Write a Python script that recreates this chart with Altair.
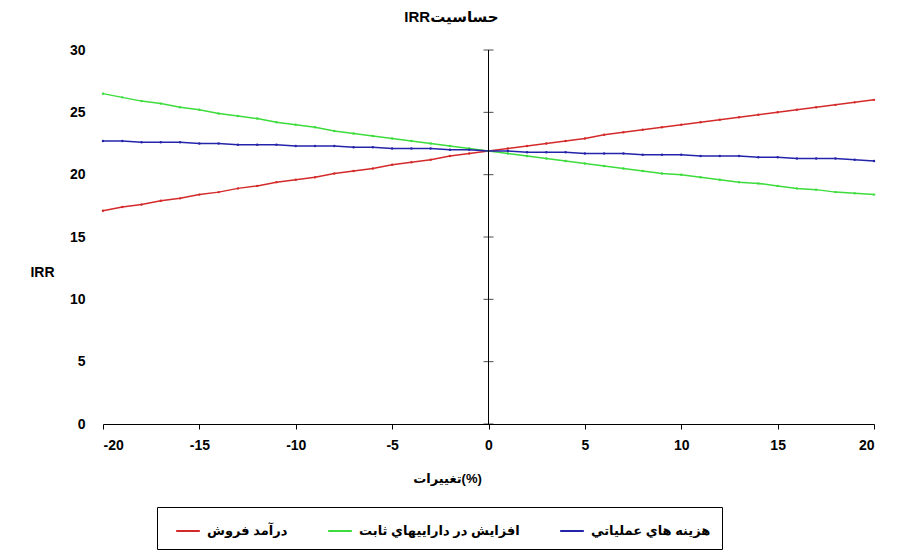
import altair as alt
import pandas as pd

# ---- data ----
x_vals = list(range(-20, 21))
series_names = ["درآمد فروش", "افزايش در داراييهاي ثابت", "هزينه هاي عملياتي"]
series_colors = ["#D42A2A", "#3CDC3C", "#2424AA"]

revenue = [17.1, 17.4, 17.6, 17.9, 18.1, 18.4, 18.6, 18.9, 19.1, 19.4, 19.6,
           19.8, 20.1, 20.3, 20.5, 20.8, 21.0, 21.2, 21.5, 21.7, 21.9,
           22.1, 22.3, 22.5, 22.7, 22.9, 23.2, 23.4, 23.6, 23.8, 24.0,
           24.2, 24.4, 24.6, 24.8, 25.0, 25.2, 25.4, 25.6, 25.8, 26.0]
assets = [26.5, 26.2, 25.9, 25.7, 25.4, 25.2, 24.9, 24.7, 24.5, 24.2, 24.0,
          23.8, 23.5, 23.3, 23.1, 22.9, 22.7, 22.5, 22.3, 22.1, 21.9,
          21.7, 21.5, 21.3, 21.1, 20.9, 20.7, 20.5, 20.3, 20.1, 20.0,
          19.8, 19.6, 19.4, 19.3, 19.1, 18.9, 18.8, 18.6, 18.5, 18.4]
opex = [22.7, 22.7, 22.6, 22.6, 22.6, 22.5, 22.5, 22.4, 22.4, 22.4, 22.3,
        22.3, 22.3, 22.2, 22.2, 22.1, 22.1, 22.1, 22.0, 22.0, 21.9,
        21.9, 21.8, 21.8, 21.8, 21.7, 21.7, 21.7, 21.6, 21.6, 21.6,
        21.5, 21.5, 21.5, 21.4, 21.4, 21.3, 21.3, 21.3, 21.2, 21.1]

x_ticks = [-20, -15, -10, -5, 0, 5, 10, 15, 20]
y_ticks = [0, 5, 10, 15, 20, 25, 30]

title_text = "IRRحساسیت"
x_title = "تغییرات(%)"
y_title = "IRR"

FONT = "Liberation Sans, DejaVu Sans, sans-serif"

rows = []
for name, vals in zip(series_names, [revenue, assets, opex]):
    for xv, yv in zip(x_vals, vals):
        rows.append({"x": xv, "y": yv, "series": name})
df = pd.DataFrame(rows)

x_scale = alt.Scale(domain=[-20, 20], nice=False, zero=False)
y_scale = alt.Scale(domain=[0, 30], nice=False)

label_style = dict(labelFont=FONT, labelFontSize=14, labelFontWeight="bold",
                   labelColor="black", titleFont=FONT, titleFontWeight="bold",
                   titleColor="black", grid=False,
                   labelExpr="toString(datum.value)")

x_axis = alt.Axis(values=x_ticks, domain=True, ticks=True, tickSize=5,
                  domainColor="black", tickColor="black",
                  labelPadding=9, title=x_title, titleX=344, titleY=54,
                  titleAlign="center", titleBaseline="middle",
                  titleFontSize=13, **label_style)
y_axis = alt.Axis(values=y_ticks, domain=False, ticks=False,
                  labelPadding=18, title=y_title, titleAngle=0,
                  titleX=-61, titleY=222, titleAlign="center",
                  titleBaseline="middle", titleFontSize=14, **label_style)

lines = alt.Chart(df).mark_line(
    strokeWidth=1.5,
    point=alt.OverlayMarkDef(size=6, filled=True),
).encode(
    x=alt.X("x:Q", scale=x_scale, axis=x_axis),
    y=alt.Y("y:Q", scale=y_scale, axis=y_axis),
    color=alt.Color("series:N",
                    scale=alt.Scale(domain=series_names, range=series_colors),
                    legend=alt.Legend(orient="none", legendX=54, legendY=457,
                                      direction="horizontal", title=None,
                                      strokeColor="black", fillColor="white",
                                      padding=11, symbolOffset=7,
                                      symbolType="stroke",
                                      symbolSize=560, symbolStrokeWidth=2,
                                      labelFontSize=13, labelFontWeight="bold",
                                      labelFont=FONT, labelLimit=400,
                                      labelOffset=6, columnPadding=32,
                                      labelColor="black")),
)

axis_df = pd.DataFrame({"x": [0], "y": [y_ticks[0]], "y2": [y_ticks[-1]]})
y_axis_line = alt.Chart(axis_df).mark_rule(color="black", strokeWidth=1).encode(
    x=alt.X("x:Q", scale=x_scale, axis=x_axis),
    y=alt.Y("y:Q", scale=y_scale, axis=y_axis), y2="y2:Q")

tick_df = pd.DataFrame({"x": [0] * len(y_ticks), "y": y_ticks})
y_axis_ticks = alt.Chart(tick_df).mark_tick(
    orient="horizontal", size=10, thickness=1, color="black").encode(
    x=alt.X("x:Q", scale=x_scale, axis=x_axis),
    y=alt.Y("y:Q", scale=y_scale, axis=y_axis))

chart = alt.layer(lines, y_axis_line, y_axis_ticks).properties(
    width=771, height=374,
    background="white",
    autosize=alt.AutoSizeParams(type="none"),
    padding={"left": 95, "top": 42, "right": 16, "bottom": 126},
    title=alt.TitleParams(title_text, fontSize=15, fontWeight="bold", font=FONT,
                          dx=-37, offset=18, anchor="middle", color="black"),
).configure_view(stroke=None)

chart.save("out.html", embed_options={"renderer": "svg", "actions": False})
